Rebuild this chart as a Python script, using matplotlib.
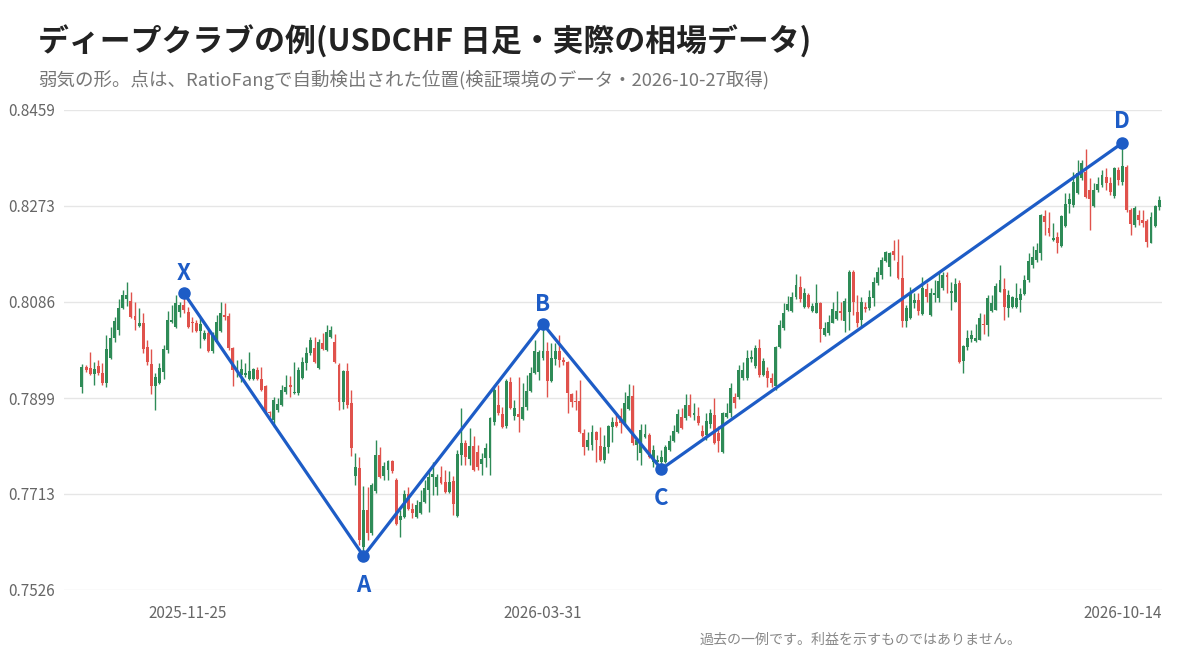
import numpy as np
import matplotlib
matplotlib.use("Agg")
import matplotlib.pyplot as plt

# USDCHF daily candles, prices x 10000 (7921 -> 0.7921)
open_pips = [
    7921, 7960, 7958, 7946, 7961, 7948, 7928, 7977, 8016, 8031,
    8074, 8092, 8088, 8059, 8039, 8045, 7998, 7965, 7923, 7928,
    7950, 7993, 8047, 8037, 8066, 8080, 8066, 8047, 8045, 8030,
    8014, 8026, 7991, 8008, 8030, 8061, 8059, 7996, 7952, 7944,
    7944, 7936, 7936, 7954, 7936, 7923, 7872, 7857, 7876, 7886,
    7910, 7925, 7909, 7909, 7938, 7967, 7987, 7996, 7958, 8006,
    7993, 8018, 8008, 7963, 7892, 7952, 7890, 7748, 7763, 7610,
    7682, 7637, 7718, 7788, 7748, 7759, 7777, 7740, 7662, 7668,
    7713, 7684, 7668, 7676, 7697, 7720, 7746, 7726, 7746, 7736,
    7717, 7738, 7670, 7788, 7812, 7781, 7806, 7794, 7771, 7783,
    7783, 7853, 7886, 7868, 7845, 7930, 7864, 7868, 7858, 7882,
    7913, 7948, 7950, 7977, 7991, 7932, 7975, 7991, 7973, 7969,
    7907, 7894, 7893, 7831, 7804, 7808, 7833, 7806, 7779, 7804,
    7843, 7853, 7864, 7851, 7878, 7903, 7808, 7792, 7823, 7827,
    7775, 7775, 7775, 7775, 7798, 7816, 7833, 7862, 7860, 7886,
    7866, 7864, 7835, 7827, 7849, 7866, 7831, 7794, 7862, 7870,
    7901, 7901, 7938, 7938, 7975, 7961, 7996, 7944, 7952, 7938,
    7923, 7998, 8035, 8070, 8068, 8096, 8115, 8076, 8100, 8068,
    8065, 8084, 8022, 8026, 8045, 8053, 8068, 8049, 8066, 8144,
    8066, 8051, 8076, 8074, 8094, 8123, 8138, 8166, 8153, 8185,
    8164, 8133, 8049, 8055, 8084, 8090, 8063, 8111, 8061, 8100,
    8094, 8113, 8138, 8103, 8086, 8123, 7971, 7998, 8014, 8010,
    8012, 8043, 8041, 8068, 8070, 8105, 8111, 8074, 8076, 8076,
    8090, 8101, 8129, 8158, 8168, 8181, 8253, 8230, 8206, 8212,
    8195, 8234, 8276, 8274, 8298, 8327, 8339, 8303, 8273, 8303,
    8313, 8329, 8317, 8292, 8343, 8319, 8348, 8265, 8236, 8255,
    8245, 8243, 8201, 8234, 8271,
]
high_pips = [
    7965, 7963, 7989, 7969, 7973, 7967, 8022, 8037, 8057, 8092,
    8109, 8125, 8105, 8086, 8074, 8065, 8012, 7995, 7948, 7967,
    8002, 8068, 8080, 8100, 8086, 8103, 8076, 8057, 8051, 8055,
    8031, 8031, 8028, 8061, 8086, 8084, 8065, 7998, 7973, 7975,
    7967, 7989, 7958, 7960, 7960, 7925, 7874, 7901, 7899, 7925,
    7944, 7942, 7969, 7960, 7979, 7998, 8018, 8018, 8014, 8026,
    8041, 8039, 8024, 7967, 7954, 7967, 7915, 7792, 7785, 7728,
    7726, 7734, 7818, 7804, 7775, 7779, 7779, 7744, 7682, 7720,
    7726, 7695, 7701, 7720, 7740, 7755, 7775, 7752, 7767, 7759,
    7757, 7748, 7798, 7880, 7818, 7841, 7825, 7808, 7792, 7812,
    7862, 7925, 7925, 7882, 7936, 7940, 7895, 7940, 7928, 7944,
    7960, 8012, 7993, 8043, 8008, 8006, 8006, 8022, 7979, 7971,
    7909, 7915, 7934, 7839, 7833, 7847, 7835, 7843, 7827, 7847,
    7862, 7870, 7880, 7910, 7927, 7925, 7822, 7849, 7849, 7831,
    7808, 7788, 7798, 7808, 7827, 7847, 7878, 7880, 7907, 7907,
    7890, 7882, 7847, 7870, 7878, 7899, 7845, 7872, 7890, 7928,
    7909, 7963, 7969, 7993, 7993, 8002, 8014, 7977, 7960, 7948,
    8000, 8051, 8084, 8098, 8105, 8140, 8136, 8113, 8103, 8084,
    8121, 8086, 8047, 8061, 8086, 8107, 8086, 8094, 8148, 8148,
    8100, 8096, 8086, 8109, 8135, 8153, 8173, 8185, 8183, 8206,
    8208, 8177, 8080, 8115, 8103, 8103, 8135, 8123, 8113, 8129,
    8144, 8144, 8144, 8125, 8133, 8129, 8002, 8031, 8031, 8043,
    8065, 8063, 8100, 8100, 8123, 8158, 8133, 8109, 8098, 8123,
    8113, 8138, 8181, 8195, 8201, 8257, 8265, 8261, 8239, 8222,
    8255, 8298, 8298, 8339, 8361, 8361, 8383, 8327, 8317, 8329,
    8343, 8346, 8329, 8348, 8348, 8395, 8352, 8269, 8273, 8265,
    8265, 8247, 8261, 8275, 8292,
]
low_pips = [
    7909, 7950, 7944, 7925, 7944, 7925, 7921, 7975, 8008, 8022,
    8072, 8078, 8055, 8031, 8037, 7987, 7963, 7907, 7876, 7926,
    7936, 7987, 8045, 8035, 8057, 8065, 8035, 8028, 8028, 7996,
    8012, 7989, 7987, 8006, 8028, 8051, 7993, 7923, 7940, 7930,
    7940, 7934, 7934, 7934, 7913, 7870, 7862, 7843, 7872, 7884,
    7907, 7901, 7907, 7905, 7936, 7954, 7983, 7967, 7956, 7993,
    7991, 8016, 7967, 7876, 7878, 7880, 7787, 7730, 7614, 7592,
    7623, 7633, 7715, 7744, 7740, 7740, 7753, 7652, 7629, 7666,
    7682, 7666, 7666, 7674, 7695, 7678, 7711, 7711, 7732, 7715,
    7715, 7672, 7668, 7769, 7769, 7769, 7757, 7759, 7750, 7765,
    7750, 7847, 7866, 7841, 7841, 7878, 7857, 7833, 7856, 7876,
    7910, 7946, 7934, 7973, 7901, 7930, 7963, 7960, 7963, 7870,
    7882, 7876, 7831, 7788, 7798, 7798, 7775, 7777, 7773, 7792,
    7814, 7843, 7831, 7849, 7876, 7808, 7779, 7769, 7822, 7783,
    7765, 7767, 7761, 7773, 7796, 7814, 7831, 7839, 7857, 7862,
    7857, 7847, 7823, 7818, 7841, 7810, 7794, 7792, 7860, 7862,
    7880, 7897, 7934, 7934, 7969, 7958, 7940, 7942, 7921, 7921,
    7915, 7996, 8031, 8068, 8066, 8092, 8086, 8074, 8074, 8066,
    8065, 8008, 8020, 8022, 8045, 8051, 8051, 8028, 8031, 8061,
    8037, 8037, 8066, 8070, 8078, 8119, 8131, 8164, 8136, 8168,
    8131, 8037, 8037, 8053, 8074, 8061, 8061, 8086, 8059, 8086,
    8086, 8109, 8103, 8070, 8086, 7967, 7948, 7993, 8008, 8008,
    8012, 8024, 8020, 8066, 8070, 8105, 8051, 8057, 8074, 8074,
    8066, 8100, 8125, 8152, 8164, 8168, 8216, 8214, 8204, 8181,
    8193, 8232, 8259, 8271, 8296, 8323, 8288, 8226, 8271, 8300,
    8309, 8303, 8294, 8288, 8313, 8313, 8261, 8216, 8232, 8236,
    8232, 8193, 8201, 8232, 8265,
]
close_pips = [
    7960, 7954, 7946, 7956, 7948, 7928, 7995, 8016, 8049, 8074,
    8100, 8100, 8057, 8051, 8045, 7995, 7969, 7923, 7940, 7958,
    7995, 8051, 8051, 8084, 8080, 8070, 8037, 8045, 8030, 8043,
    8026, 7991, 8022, 8047, 8065, 8057, 7996, 7954, 7958, 7956,
    7948, 7952, 7956, 7936, 7915, 7872, 7870, 7895, 7888, 7915,
    7921, 7921, 7911, 7954, 7969, 7987, 8012, 7969, 8008, 7995,
    8028, 8031, 7969, 7892, 7952, 7886, 7802, 7765, 7623, 7682,
    7637, 7730, 7788, 7746, 7767, 7777, 7757, 7654, 7670, 7713,
    7684, 7676, 7691, 7697, 7724, 7746, 7752, 7746, 7734, 7717,
    7736, 7693, 7790, 7812, 7785, 7806, 7759, 7765, 7781, 7802,
    7860, 7915, 7870, 7843, 7932, 7880, 7880, 7862, 7882, 7913,
    7948, 7991, 7989, 7991, 7932, 7977, 7991, 7973, 7969, 7909,
    7892, 7892, 7833, 7804, 7818, 7833, 7818, 7779, 7804, 7845,
    7853, 7845, 7851, 7890, 7903, 7812, 7818, 7837, 7829, 7785,
    7798, 7779, 7785, 7804, 7816, 7835, 7868, 7841, 7886, 7864,
    7870, 7851, 7825, 7855, 7870, 7812, 7816, 7870, 7870, 7919,
    7890, 7954, 7954, 7977, 7979, 7996, 7944, 7971, 7938, 7928,
    7998, 8041, 8065, 8082, 8096, 8119, 8092, 8103, 8076, 8078,
    8084, 8033, 8035, 8047, 8072, 8068, 8065, 8088, 8144, 8086,
    8045, 8086, 8072, 8096, 8125, 8144, 8168, 8183, 8181, 8177,
    8133, 8049, 8074, 8105, 8090, 8068, 8113, 8096, 8103, 8103,
    8127, 8138, 8135, 8107, 8121, 7969, 8000, 8016, 8022, 8016,
    8055, 8041, 8094, 8084, 8117, 8129, 8076, 8100, 8096, 8094,
    8101, 8129, 8166, 8173, 8186, 8255, 8241, 8220, 8210, 8201,
    8253, 8276, 8286, 8319, 8337, 8356, 8290, 8286, 8303, 8315,
    8333, 8317, 8300, 8346, 8323, 8350, 8265, 8238, 8269, 8245,
    8239, 8203, 8251, 8273, 8284,
]

# pattern points (candle index, price)
pattern_names = ["X", "A", "B", "C", "D"]
pattern_idx = [25, 69, 113, 142, 255]
pattern_price = [0.8103, 0.7592, 0.8043, 0.7761, 0.8395]

y_ticks = [0.7526, 0.7713, 0.7899, 0.8086, 0.8273, 0.8459]
x_tick_idx = [26, 113, 255]
x_tick_labels = ["2025-11-25", "2026-03-31", "2026-10-14"]

opens = np.array(open_pips) / 10000
highs = np.array(high_pips) / 10000
lows = np.array(low_pips) / 10000
closes = np.array(close_pips) / 10000
idx = np.arange(len(closes))

GREEN = "#2e8b57"
RED = "#e0524c"
BLUE = "#1d5cc6"

plt.rcParams['font.family'] = ['Noto Sans CJK JP', 'DejaVu Sans']

fig = plt.figure(figsize=(12, 6.6), dpi=100)
ax = fig.add_axes([64 / 1200, 70 / 660, 1098 / 1200, 480 / 660])

# candles
colors = np.where(closes >= opens, GREEN, RED)
ax.vlines(idx, lows, highs, colors=colors, lw=1, zorder=2)
body_h = np.maximum(np.abs(closes - opens), 0.00005)
ax.bar(idx, body_h, bottom=np.minimum(opens, closes), width=0.72,
       color=colors, linewidth=0, zorder=3)

# XABCD pattern
ax.plot(pattern_idx, pattern_price, color=BLUE, lw=2.3, zorder=4,
        solid_capstyle="round", solid_joinstyle="round")
ax.plot(pattern_idx, pattern_price, "o", color=BLUE, markersize=8, zorder=5)
offsets = {"X": 20, "A": -29, "B": 20, "C": -29, "D": 21}
for name, i, p in zip(pattern_names, pattern_idx, pattern_price):
    ax.annotate(name, (i, p), xytext=(0, offsets[name]), textcoords="offset pixels",
                ha="center", va="center", fontsize=16, fontweight="bold",
                color=BLUE, zorder=6, annotation_clip=False)

ax.set_xlim(-4.4, 264.7)
ax.set_ylim(0.7526, 0.8459)
ax.set_yticks(y_ticks)
ax.set_yticklabels([f"{v:.4f}" for v in y_ticks])
ax.set_xticks(x_tick_idx)
ax.set_xticklabels(x_tick_labels)
ax.tick_params(axis="y", length=0, pad=40, labelsize=11, labelcolor="#666")
ax.tick_params(axis="x", length=0, pad=11, labelsize=11, labelcolor="#666")
for lbl in ax.get_yticklabels():
    lbl.set_horizontalalignment("left")
ax.grid(axis="y", color="#e6e6e6", lw=1)
ax.set_axisbelow(True)
for s in ax.spines.values():
    s.set_visible(False)

fig.text(38 / 1200, 1 - 42 / 660, "ディープクラブの例(USDCHF 日足・実際の相場データ)",
         fontsize=22.2, fontweight="bold", color="#222", va="center")
fig.text(38 / 1200, 1 - 80 / 660,
         "弱気の形。点は、RatioFangで自動検出された位置(検証環境のデータ・2026-10-27取得)",
         fontsize=13.3, color="#777", va="center")
fig.text(1022 / 1200, 1 - 640 / 660, "過去の一例です。利益を示すものではありません。",
         fontsize=10.1, color="#888", ha="right", va="center")

fig.savefig("out.png", dpi=100)
